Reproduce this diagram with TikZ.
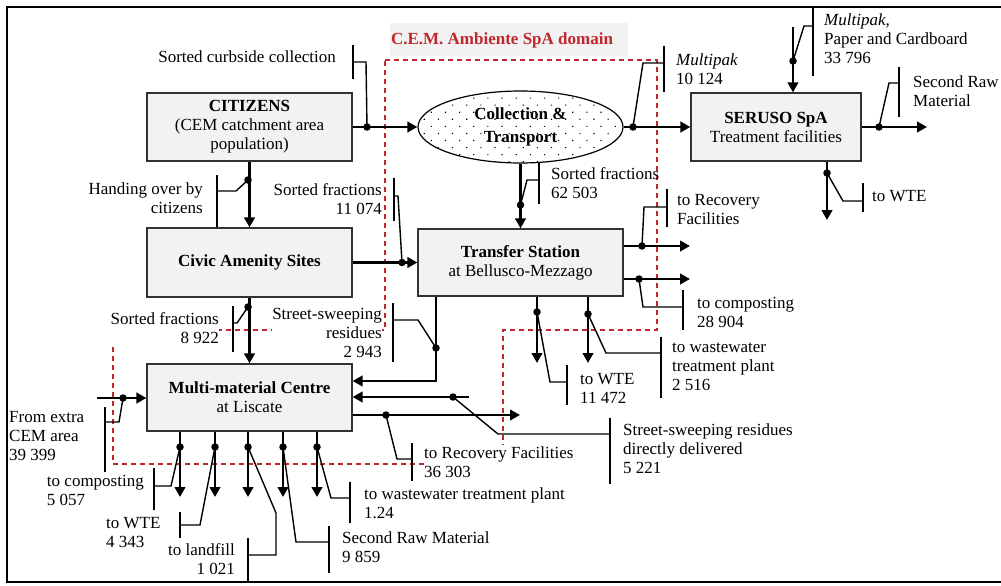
\documentclass[tikz,border=0pt]{standalone}
\usepackage{fontspec}
\setmainfont{Liberation Serif}
\usetikzlibrary{arrows.meta,patterns.meta,shapes.geometric}
\definecolor{boxgray}{HTML}{F1F3F3}
\definecolor{titlebg}{HTML}{F2F2F2}
\definecolor{domred}{HTML}{C0272D}
\begin{document}
\begin{tikzpicture}[x=1pt,y=-1pt,
 every node/.style={font=\fontsize{17}{19}\selectfont, inner sep=0pt},
 box/.style={draw=black!80, line width=1.2pt, fill=boxgray, align=center},
 flow/.style={line width=2.6pt, -{Triangle[length=10pt,width=10.5pt]}},
 lead/.style={line width=1.4pt},
 bar/.style={line width=1.6pt},
 dot/.style={fill=black, circle, minimum size=7.5pt, inner sep=0pt},
 lw/.style={anchor=west, align=left},
 le/.style={anchor=east, align=right},
 mask/.style={fill=white, inner ysep=2pt},
 domline/.style={draw=domred, line width=1.3pt, dash pattern=on 5pt off 4pt}]
\useasboundingbox (0,0) rectangle (1001,586);
% frame
\draw[line width=2pt] (1001,7) -- (7,7) -- (7,582) -- (1001,582);
% domain boundary
\draw[domline] (385,60) -- (657,60) -- (657,330) -- (503,330) -- (503,464) -- (113,464) -- (113,330) -- (385,330) -- cycle;
% title
\fill[titlebg] (390,23) rectangle (628,56);
\node[text=domred, font=\fontsize{17}{19}\selectfont\bfseries] (title) at (502,40) {C.E.M. Ambiente SpA domain};

% boxes
\node[box, minimum width=205pt, minimum height=68pt] (cit) at (249.5,127) {\textbf{CITIZENS}\\(CEM catchment area\\population)};
\node[box, minimum width=205pt, minimum height=69pt] (civ) at (249.5,262.5) {\textbf{Civic Amenity Sites}};
\node[box, minimum width=205pt, minimum height=67pt] (mmc) at (249.5,397.5) {\textbf{Multi-material Centre}\\at Liscate};
\node[box, minimum width=205pt, minimum height=67pt] (trs) at (520.5,262.5) {\textbf{Transfer Station}\\at Bellusco-Mezzago};
\node[box, minimum width=170pt, minimum height=68pt] (ser) at (776,127) {\textbf{SERUSO SpA}\\Treatment facilities};
\node[ellipse, draw, line width=1.2pt, pattern={Dots[distance=10pt,radius=0.8pt,angle=45]}, minimum width=205pt, minimum height=72pt, align=center] (ell) at (520.5,127) {\textbf{Collection \&}\\[4pt]\textbf{Transport}};

% flows
\draw[flow] (cit.east) -- (ell.west);
\draw[flow] (ell.east) -- (ser.west);
\coordinate (msrc) at (793,27);
\draw[flow] (msrc) -- (msrc |- ser.north);
\coordinate (srm) at (927,127);
\draw[flow] (ser.east) -- (srm);
\coordinate (swte) at (827,220);
\draw[flow] (swte |- ser.south) -- (swte);
\draw[flow] (cit.south) -- (civ.north);
\draw[flow] (civ.south) -- (mmc.north);
\draw[flow] (civ.east) -- (trs.west);
\draw[flow] (ell.south) -- (trs.north);
\coordinate (trf) at (690,246);
\draw[flow] (trf -| trs.east) -- (trf);
\coordinate (tcp) at (690,279);
\draw[flow] (tcp -| trs.east) -- (tcp);
\coordinate (twte) at (537,363);
\draw[flow] (twte |- trs.south) -- (twte);
\coordinate (tww) at (588,363);
\draw[flow] (tww |- trs.south) -- (tww);
\coordinate (swc) at (436,381);
\draw[flow] (swc |- trs.south) -- (swc) -- (swc -| mmc.east);
\coordinate (dd) at (469,397);
\draw[flow] (dd) -- (dd -| mmc.east);
\coordinate (mrf) at (520,415);
\draw[flow] (mrf -| mmc.east) -- (mrf);
\coordinate (xs) at (97,398);
\draw[flow] (xs) -- (xs -| mmc.west);
\foreach \n/\x in {1/180,2/215,3/248,4/283,5/317} {
  \coordinate (m\n) at (\x,497);
  \draw[flow] (m\n |- mmc.south) -- (m\n);
}

% leaders and labels
% 1 sorted curbside
\node[dot] (p1) at (367,127) {};
\draw[lead] (p1.center) -- (366,62) -- (353,62);
\draw[bar] (353,45) -- (353,79);
\node[le] (t1) at (336,57) {Sorted curbside collection};
% 2 multipak 10 124
\node[dot] (p2) at (633,127) {};
\draw[lead] (p2.center) -- (643,63) -- (664,63);
\draw[bar] (664,46) -- (664,92);
\node[lw] (t2) at (676,69) {\textit{Multipak}\\10 124};
% 3 multipak paper
\node[dot] (p3) at (793,61) {};
\draw[lead] (p3.center) -- (804,26) -- (813,26);
\draw[bar] (813,8) -- (813,76);
\node[lw] (t3) at (824,38.5) {\textit{Multipak,}\\Paper and Cardboard\\33 796};
% 4 second raw material
\node[dot] (p4) at (879,127) {};
\draw[lead] (p4.center) -- (889,83) -- (899,83);
\draw[bar] (899,67) -- (899,117);
\node[lw] (t4) at (913,91) {Second Raw\\Material};
% 5 seruso to WTE
\node[dot] (p5) at (827,173) {};
\draw[lead] (p5.center) -- (843,201) -- (863,201);
\draw[bar] (863,183) -- (863,212);
\node[lw] (t5) at (872,196) {to WTE};
% 6 handing over
\node[dot] (p6) at (248,180) {};
\draw[lead] (p6.center) -- (236,191) -- (217,191);
\draw[bar] (217,175) -- (217,227);
\node[le] (t6) at (203,198) {Handing over by\\citizens};
% 7 sorted fractions 8 922
\node[dot] (p7) at (248,307) {};
\draw[lead] (p7.center) -- (237,323) -- (233,323);
\draw[bar] (233,306) -- (233,352);
\node[le, mask] (t7) at (219,328.5) {Sorted fractions\\8 922};
% 8 sorted fractions 11 074
\node[dot] (p8) at (402,262.5) {};
\draw[lead] (p8.center) -- (398,196) -- (394,196);
\draw[bar] (394,178) -- (394,221);
\node[le] (t8) at (382,199) {Sorted fractions\\11 074};
% 9 sorted fractions 62 503
\node[dot] (p9) at (520.5,205) {};
\draw[lead] (p9.center) -- (527,180) -- (539,180);
\draw[bar] (539,163) -- (539,204);
\node[lw] (t9) at (551,183) {Sorted fractions\\62 503};
% 10 to recovery (transfer)
\node[dot] (p10) at (642,246) {};
\draw[lead] (p10.center) -- (644,207) -- (667,207);
\draw[bar] (667,189) -- (667,227);
\node[lw] (t10) at (677,210) {to Recovery\\Facilities};
% 11 to composting 28 904
\node[dot] (p11) at (639,279) {};
\draw[lead] (p11.center) -- (643,307) -- (683,307);
\draw[bar] (683,290) -- (683,330);
\node[lw] (t11) at (697,312) {to composting\\28 904};
% 12 to WTE 11 472
\node[dot] (p12) at (537,312) {};
\draw[lead] (p12.center) -- (550,382) -- (567,382);
\draw[bar] (567,365) -- (567,405);
\node[lw] (t12) at (580,388) {to WTE\\11 472};
% 13 to wastewater 2 516
\node[dot] (p13) at (588,314) {};
\draw[lead] (p13.center) -- (606,353) -- (661,353);
\draw[bar] (661,337) -- (661,398);
\node[lw] (t13) at (672,366.5) {to wastewater\\treatment plant\\2 516};
% 14 street-sweeping 2 943
\node[dot] (p14) at (436,348) {};
\draw[lead] (p14.center) -- (418,320) -- (393,320);
\draw[bar] (393,303) -- (393,362);
\node[le, mask] (t14) at (382,332.5) {Street-sweeping\\residues\\2 943};
% 15 directly delivered
\node[dot] (p15) at (453,397) {};
\draw[lead] (p15.center) -- (498,434) -- (610,434);
\draw[bar] (610,418) -- (610,484);
\node[lw] (t15) at (623,449) {Street-sweeping residues\\directly delivered\\5 221};
% 16 to recovery 36 303
\node[dot] (p16) at (386,415) {};
\draw[lead] (p16.center) -- (397,459) -- (412,459);
\draw[bar] (412,443) -- (412,481);
\node[lw, mask] (t16) at (424,462) {to Recovery Facilities\\36 303};
% 17 from extra CEM area
\node[dot] (p17) at (123,398) {};
\draw[lead] (p17.center) -- (119,422) -- (105,422);
\draw[bar] (105,407) -- (105,472);
\node[lw] (t17) at (9,436) {From extra\\CEM area\\39 399};
% 18 to composting 5 057
\node[dot] (p18) at (180,447) {};
\draw[lead] (p18.center) -- (171,486) -- (154,486);
\draw[bar] (154,468) -- (154,510);
\node[anchor=east, align=left] (t18) at (144,490) {to composting\\5 057};
% 19 to WTE 4 343
\node[dot] (p19) at (215,447) {};
\draw[lead] (p19.center) -- (200,525) -- (180,525);
\draw[bar] (180,512) -- (180,538);
\node[lw] (t19) at (106,533) {to WTE\\4 343};
% 20 to landfill
\node[dot] (p20) at (248,447) {};
\draw[lead] (p20.center) -- (276,513) -- (276,555) -- (248,555);
\draw[bar] (248,538) -- (248,582);
\node[le] (t20) at (235,559.5) {to landfill\\1 021};
% 21 second raw material 9 859
\node[dot] (p21) at (283,447) {};
\draw[lead] (p21.center) -- (296,542) -- (329,542);
\draw[bar] (329,526) -- (329,573);
\node[lw] (t21) at (342,547) {Second Raw Material\\9 859};
% 22 to wastewater 1.24
\node[dot] (p22) at (317,447) {};
\draw[lead] (p22.center) -- (331,498) -- (350,498);
\draw[bar] (350,482) -- (350,523);
\node[lw] (t22) at (364,503.5) {to wastewater treatment plant\\1.24};
\end{tikzpicture}
\end{document}
